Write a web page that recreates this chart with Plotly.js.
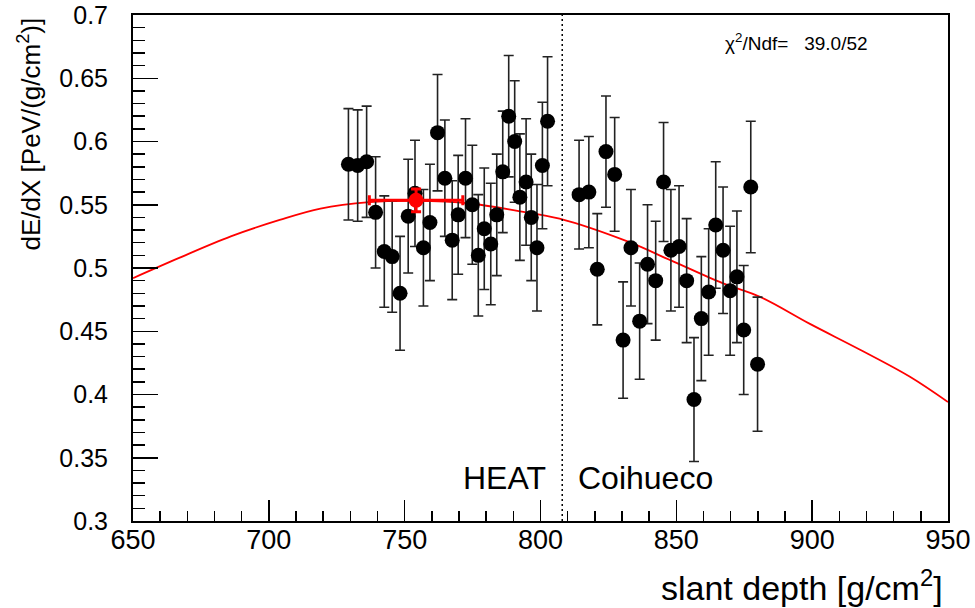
<!DOCTYPE html>
<html>
<head>
<meta charset="utf-8">
<script src="https://cdn.plot.ly/plotly-3.0.1.min.js"></script>
<style>html,body{margin:0;padding:0;background:#fff;}#chart{width:975px;height:608px;}</style>
</head>
<body>
<div id="chart"></div>
<script>
// HEAT data points
const heatX = [729.3, 732.7, 736.0, 739.3, 742.5, 745.4, 748.3, 751.3, 753.8, 756.9, 759.3, 762.1, 764.8, 767.5, 769.7, 772.4, 774.9, 777.1, 779.3, 781.7, 783.9, 786.1, 788.3, 790.5, 792.4, 794.7, 796.6, 798.7, 800.7, 802.6];
const heatY = [0.582, 0.581, 0.584, 0.544, 0.513, 0.509, 0.480, 0.541, 0.559, 0.516, 0.536, 0.607, 0.571, 0.522, 0.542, 0.571, 0.550, 0.510, 0.531, 0.519, 0.542, 0.576, 0.620, 0.600, 0.556, 0.568, 0.540, 0.516, 0.581, 0.616];
const heatErr = [0.044, 0.044, 0.044, 0.044, 0.044, 0.044, 0.045, 0.045, 0.042, 0.046, 0.046, 0.046, 0.046, 0.047, 0.047, 0.047, 0.047, 0.048, 0.048, 0.048, 0.048, 0.048, 0.048, 0.048, 0.050, 0.050, 0.050, 0.050, 0.050, 0.051];

// Coihueco data points
const coiX = [814.2, 817.8, 820.9, 824.1, 827.3, 830.4, 833.3, 836.5, 839.4, 842.4, 845.3, 848.0, 851.0, 853.8, 856.5, 859.2, 861.9, 864.5, 867.2, 869.8, 872.3, 874.8, 877.4, 879.9];
const coiY = [0.558, 0.560, 0.499, 0.592, 0.574, 0.443, 0.516, 0.458, 0.503, 0.490, 0.568, 0.514, 0.517, 0.490, 0.396, 0.460, 0.481, 0.534, 0.514, 0.482, 0.493, 0.451, 0.564, 0.424];
const coiErr = [0.043, 0.044, 0.044, 0.044, 0.045, 0.046, 0.046, 0.046, 0.047, 0.047, 0.047, 0.048, 0.048, 0.049, 0.049, 0.049, 0.050, 0.050, 0.050, 0.051, 0.052, 0.051, 0.052, 0.053];

// Fitted profile
const fitX = [650, 667, 686, 704, 719, 737, 754, 774, 792, 807, 832, 848, 867, 881, 899, 918, 936, 950];
const fitY = [0.492, 0.508, 0.525, 0.538, 0.547, 0.552, 0.553, 0.551, 0.545, 0.539, 0.521, 0.506, 0.488, 0.477, 0.456, 0.435, 0.414, 0.394];

// Maximum point
const maxX = [754.2];
const maxY = [0.5535];
const maxXErr = [17.2];
const maxYErr = [0.009];

const boundaryX = 808;
const chi2Text = "\u03C7<sup>2</sup>/Ndf=\u00A0\u00A0\u00A039.0/52";

const FONT = "Liberation Sans, Arial, Helvetica, sans-serif";

const dataPts = (x, y, e) => ({
  x: x, y: y, type: 'scatter', mode: 'markers',
  marker: {color: '#000', size: 15},
  error_y: {type: 'data', array: e, visible: true, color: '#222', thickness: 1.6, width: 5},
  hoverinfo: 'x+y', showlegend: false
});

const traces = [
  {x: fitX, y: fitY, type: 'scatter', mode: 'lines', line: {color: '#ff0000', width: 1.8, shape: 'spline'}, showlegend: false},
  dataPts(heatX, heatY, heatErr),
  dataPts(coiX, coiY, coiErr),
  {x: maxX, y: maxY, type: 'scatter', mode: 'markers',
   marker: {color: '#ff0000', size: 15},
   error_x: {type: 'data', array: maxXErr, visible: true, color: '#ff0000', thickness: 3, width: 5},
   error_y: {type: 'data', array: maxYErr, visible: true, color: '#ff0000', thickness: 3, width: 5},
   showlegend: false}
];

const layout = {
  width: 975, height: 608,
  margin: {l: 133, r: 27, t: 15, b: 87},
  paper_bgcolor: '#fff', plot_bgcolor: '#fff',
  font: {family: FONT, color: '#000'},
  xaxis: {
    range: [650, 950], dtick: 50, tick0: 650,
    ticks: 'inside', ticklen: 21, tickwidth: 1.5, tickcolor: '#000',
    minor: {dtick: 10, ticks: 'inside', ticklen: 10, tickwidth: 1.5, tickcolor: '#000'},
    showline: true, mirror: true, linewidth: 2, linecolor: '#000',
    showgrid: false, zeroline: false,
    tickfont: {size: 27, family: FONT}, ticklabelstandoff: -6
  },
  yaxis: {
    range: [0.3, 0.7], dtick: 0.05, tick0: 0.3,
    ticks: 'inside', ticklen: 25, tickwidth: 1.5, tickcolor: '#000',
    minor: {dtick: 0.01, ticks: 'inside', ticklen: 12, tickwidth: 1.5, tickcolor: '#000'},
    showline: true, mirror: true, linewidth: 2, linecolor: '#000',
    showgrid: false, zeroline: false,
    tickfont: {size: 25, family: FONT}, ticklabelstandoff: 18
  },
  shapes: [
    {type: 'line', xref: 'x', yref: 'paper', x0: boundaryX, x1: boundaryX, y0: 0, y1: 1,
     line: {color: '#000', width: 1.5, dash: '2px,3px'}}
  ],
  annotations: [
    {text: 'HEAT', xref: 'x', yref: 'y', x: 802.8, y: 0.334, xanchor: 'right', yanchor: 'middle', showarrow: false, font: {size: 32, family: FONT}},
    {text: 'Coihueco', xref: 'x', yref: 'y', x: 813.1, y: 0.334, xanchor: 'left', yanchor: 'middle', showarrow: false, font: {size: 32, family: FONT}},
    {text: chi2Text, xref: 'paper', yref: 'paper', x: 0.724, y: 0.9466, xanchor: 'left', yanchor: 'middle', showarrow: false, font: {size: 19, family: FONT}},
    {text: 'slant depth [g/cm<sup>2</sup>]', xref: 'paper', yref: 'paper', x: 0.9963, y: -0.1265, xanchor: 'right', yanchor: 'middle', showarrow: false, font: {size: 34, family: FONT}},
    {text: 'dE/dX [PeV/(g/cm<sup>2</sup>)]', xref: 'paper', yref: 'paper', x: -0.1264, y: 1.0, xanchor: 'center', yanchor: 'top', textangle: -90, showarrow: false, font: {size: 26, family: FONT}}
  ]
};

Plotly.newPlot('chart', traces, layout, {staticPlot: true, displayModeBar: false});
</script>
</body>
</html>
